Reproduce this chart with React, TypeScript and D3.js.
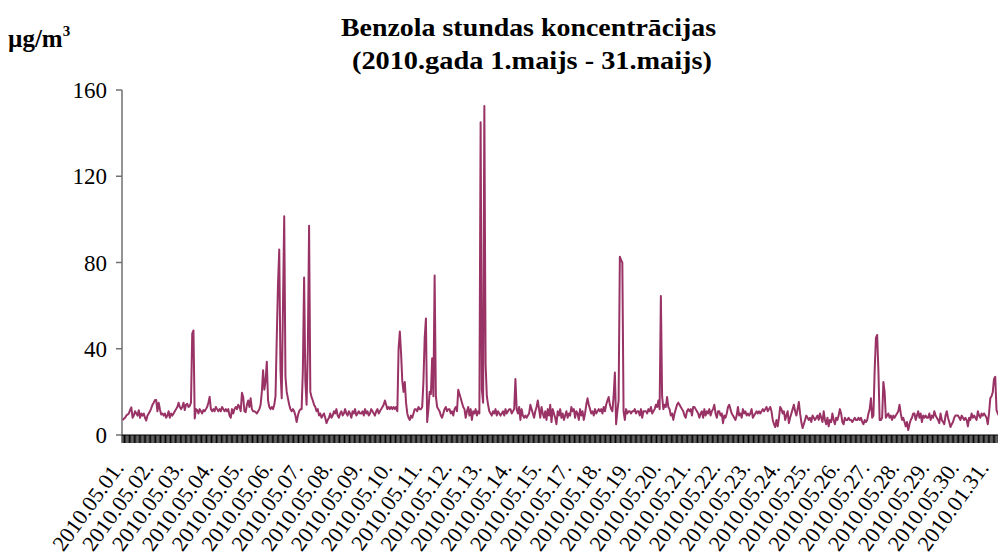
import { useEffect, useRef } from "react";
import * as d3 from "d3";

// x-axis labels (one per day, day 16 is missing in the source)
const dayLabels = [
  "2010.05.01.", "2010.05.02.", "2010.05.03.", "2010.05.04.", "2010.05.05.",
  "2010.05.06.", "2010.05.07.", "2010.05.08.", "2010.05.09.", "2010.05.10.",
  "2010.05.11.", "2010.05.12.", "2010.05.13.", "2010.05.14.", "2010.05.15.",
  "2010.05.17.", "2010.05.18.", "2010.05.19.", "2010.05.20.", "2010.05.21.",
  "2010.05.22.", "2010.05.23.", "2010.05.24.", "2010.05.25.", "2010.05.26.",
  "2010.05.27.", "2010.05.28.", "2010.05.29.", "2010.05.30.", "2010.01.31.",
];

const yTicks = [0, 40, 80, 120, 160];

// hourly benzene, µg/m3 (24 values per day)
const d01 = [7, 7.5, 8, 9, 9.5, 10, 11.6, 12.8, 8, 9, 11, 10, 9, 11.5, 8, 10, 9, 10, 8, 6.7, 9, 10, 11, 12.4];
const d02 = [14, 15, 16.2, 16.2, 11, 15, 12, 9.5, 10, 9, 10, 8, 9, 11, 8, 10, 9, 10, 11, 12, 13, 15, 13, 12];
const d03 = [13, 15, 11.6, 14, 14.5, 13, 13.5, 15, 47, 48.5, 7.7, 12, 11.6, 10, 12, 11, 10, 11.6, 11, 12, 13, 15, 17.7, 12];
const d04 = [11, 12, 11, 13, 12, 11, 12, 11, 13, 12, 11, 12, 11, 12, 9, 8, 12, 10, 12, 13, 12, 14, 13, 11];
const d05 = [19.6, 17.6, 11, 10.6, 14, 16, 13, 17, 12, 11, 11, 10.6, 10, 11, 12, 14, 20, 30, 21, 25, 34, 16, 13, 12];
const d06 = [13, 12, 14, 18, 45, 70, 86, 30, 17, 60, 101.5, 27, 20, 17, 14, 12, 11, 12, 11, 9, 6, 9, 11, 12];
const d07 = [12, 30, 73, 25, 14, 40, 97, 20, 17.6, 16, 14, 13, 11, 12, 9, 10, 8, 9, 10, 8, 5.5, 7, 8, 10];
const d08 = [8, 9, 11, 10, 12, 9, 8, 10, 11, 9, 10, 12, 10, 9, 11, 10, 8, 11, 10, 12, 9, 10, 11, 10];
const d09 = [10, 11, 9, 12, 10, 11, 9, 10, 12, 11, 10, 9, 11, 12, 10, 11, 12, 13, 14, 16, 14, 12, 13, 12];
const d10 = [13, 12, 13, 12, 13, 11, 40, 48, 38, 25, 20, 24.6, 15, 10, 8, 7, 9, 8, 10, 12, 12, 11, 13, 12];
const d11 = [12, 13, 25, 45, 54, 6, 12, 20, 19, 35.6, 18, 74, 18, 13, 12, 11, 9, 8, 10, 12, 13, 11, 12, 12];
const d12 = [10, 11, 9, 12, 13, 11, 21, 19, 17, 15, 13, 12, 8, 11, 13, 9, 12, 7, 11, 10, 12, 9, 11, 10];
const d13 = [145, 21, 15, 152.6, 33, 18, 14, 11, 10, 9, 11, 10, 12, 9, 11, 10, 9, 10, 11, 9, 12, 10, 11, 12];
const d14 = [12, 10, 11, 12, 26, 12, 10, 13, 7, 12, 9, 8, 9, 8, 9, 10, 14, 12, 10, 8, 11, 13, 16, 12];
const d15 = [8, 13, 10, 8, 11, 7, 12, 9, 14, 6, 12, 10, 8, 5, 11, 9, 12, 8, 10, 7, 9, 11, 8, 10];
const d17 = [9, 13, 11, 12, 8, 11, 10, 7, 12, 9, 11, 7, 10, 14, 17, 14, 12, 10, 11, 9, 12, 10, 11, 12];
const d18 = [11, 12, 10, 13, 11, 14, 16, 17.6, 14, 12, 11, 18, 29, 5, 11, 16, 82.7, 81, 80, 11, 7, 12, 10, 11];
const d19 = [11, 10, 11, 11, 12, 10, 11, 11, 9, 12, 8, 11, 11, 11, 10, 12, 11, 13, 10, 11, 12, 14, 13, 16];
const d20 = [12, 64.5, 18, 12, 14, 13, 17.6, 13, 12, 9, 10, 7, 10, 12, 14, 15, 14, 13, 12, 11, 9, 8, 11, 12];
const d21 = [11, 12, 9, 13, 13, 12, 11, 10, 8, 10, 11, 8, 12, 9, 11, 10, 12, 9, 11, 12, 14, 10, 8, 11];
const d22 = [11, 9, 10, 5.5, 9, 8, 10, 13, 14, 12, 10, 9, 8, 7, 9, 13, 9, 10, 8, 12, 10, 11, 9, 10];
const d23 = [9, 10, 12, 8, 9, 10, 11, 10, 11, 10, 11, 12, 11, 12, 13, 11, 12, 13, 11, 7, 5, 3.7, 7, 4];
const d24 = [8, 13, 12, 10, 11, 7, 9, 11, 5.5, 8, 10, 12, 14, 11, 9, 12, 15.3, 10, 6, 3.2, 5, 7, 9, 8];
const d25 = [7, 8, 6, 9, 8, 7, 8, 9, 7, 10, 8, 6, 11, 7, 5, 8, 4, 7, 6, 10, 7, 5, 8, 7];
const d26 = [9, 12, 10, 6, 5, 8, 7, 7, 8, 7, 7, 6, 7, 8, 7, 7, 8, 7, 8, 6, 5, 7, 6, 7];
const d27 = [10, 12, 17, 8, 9, 30, 45, 46.4, 30, 7, 7, 8, 24.6, 20, 8, 9, 10, 8, 9, 7, 9, 8, 9, 10];
const d28 = [11, 14, 10, 7, 8, 6, 4, 6, 2.3, 5, 7, 8, 10, 10, 7, 9, 11, 8, 10, 6, 9, 8, 9, 8];
const d29 = [8, 10, 7, 9, 8, 11, 9, 8, 7, 5.5, 10, 7, 6, 5, 9, 11, 8, 6, 3.7, 5, 6, 8, 9, 9];
const d30 = [9, 8, 7, 9, 8, 7, 8, 7, 4, 8, 7, 10, 8, 9, 8, 7, 11, 9, 8, 10, 9, 10, 9, 8];
const d31 = [5, 10, 17, 18, 19.8, 26, 27, 11.6, 10, 9, 11, 10, 8, 9, 10, 12, 11, 9, 8, 10, 11, 9, 10, 9];

const days = [
  d01, d02, d03, d04, d05, d06, d07, d08, d09, d10, d11, d12, d13, d14, d15,
  d17, d18, d19, d20, d21, d22, d23, d24, d25, d26, d27, d28, d29, d30, d31,
];

const W = 998;
const H = 559;
const serif = "'Liberation Serif', 'Times New Roman', serif";

export default function App() {
  const svgRef = useRef<SVGSVGElement>(null);

  useEffect(() => {
    if (!svgRef.current) return;
    const svg = d3.select(svgRef.current);
    svg.selectAll("*").remove();

    const values = days.flat();
    const perDay = days[0].length;

    // plot runs past the right edge of the picture (source is cropped)
    const left = 122;
    const top = 90;
    const bottom = 435;
    const plotW = 895;

    const x = d3
      .scaleBand<number>()
      .domain(d3.range(values.length))
      .range([left, left + plotW])
      .paddingInner(0)
      .paddingOuter(0);
    const half = x.bandwidth() / 2;

    const y = d3.scaleLinear().domain([0, 160]).range([bottom, top]);

    // title (condensed look of the original)
    svg
      .append("text")
      .attr("x", 341)
      .attr("y", 36)
      .attr("textLength", 375)
      .attr("lengthAdjust", "spacingAndGlyphs")
      .attr("font-family", serif)
      .attr("font-weight", "bold")
      .attr("font-size", 26)
      .text("Benzola stundas koncentrācijas");
    svg
      .append("text")
      .attr("x", 352)
      .attr("y", 69)
      .attr("textLength", 360)
      .attr("lengthAdjust", "spacingAndGlyphs")
      .attr("font-family", serif)
      .attr("font-weight", "bold")
      .attr("font-size", 26)
      .text("(2010.gada 1.maijs - 31.maijs)");

    // unit label
    const unit = svg
      .append("text")
      .attr("x", 8)
      .attr("y", 47)
      .attr("font-family", serif)
      .attr("font-weight", "bold")
      .attr("font-size", 25);
    unit.append("tspan").text("µg/m");
    unit.append("tspan").attr("font-size", 15).attr("dy", -11).text("3");

    // y axis
    svg
      .append("line")
      .attr("x1", left)
      .attr("x2", left)
      .attr("y1", y(160))
      .attr("y2", y(0))
      .attr("stroke", "#707070")
      .attr("stroke-width", 1.5);

    svg
      .append("g")
      .selectAll("line")
      .data(yTicks)
      .join("line")
      .attr("x1", left - 6)
      .attr("x2", left)
      .attr("y1", (d) => y(d))
      .attr("y2", (d) => y(d))
      .attr("stroke", "#707070")
      .attr("stroke-width", 1.5);

    svg
      .append("g")
      .selectAll("text")
      .data(yTicks)
      .join("text")
      .attr("x", 107)
      .attr("y", (d) => y(d))
      .attr("dy", "0.35em")
      .attr("text-anchor", "end")
      .attr("font-family", serif)
      .attr("font-size", 23)
      .text((d) => d);

    // category tick marks, one between every hour
    const edges = d3.range(values.length + 1).map((i) =>
      i < values.length ? (x(i) as number) : left + plotW
    );
    svg
      .append("g")
      .selectAll("line")
      .data(edges)
      .join("line")
      .attr("x1", (d) => d)
      .attr("x2", (d) => d)
      .attr("y1", bottom)
      .attr("y2", bottom + 8)
      .attr("stroke", "#000")
      .attr("stroke-width", 1);

    // x axis line
    svg
      .append("line")
      .attr("x1", left)
      .attr("x2", left + plotW)
      .attr("y1", bottom)
      .attr("y2", bottom)
      .attr("stroke", "#000")
      .attr("stroke-width", 1.2);

    // day labels
    svg
      .append("g")
      .selectAll("text")
      .data(dayLabels)
      .join("text")
      .attr(
        "transform",
        (_, k) => `translate(${(x(k * perDay) as number) + half + 2},${468}) rotate(-54)`
      )
      .attr("text-anchor", "end")
      .attr("font-family", serif)
      .attr("font-size", 22)
      .text((d) => d);

    // series line
    const line = d3
      .line<number>()
      .x((_, i) => (x(i) as number) + half)
      .y((d) => y(d));

    svg
      .append("path")
      .datum(values)
      .attr("fill", "none")
      .attr("stroke", "#993366")
      .attr("stroke-width", 2)
      .attr("stroke-linejoin", "round")
      .attr("d", line);
  }, []);

  return (
    <div
      style={{
        position: "absolute",
        left: 0,
        top: 0,
        width: W,
        height: H,
        overflow: "hidden",
        background: "#fff",
      }}
    >
      <svg ref={svgRef} width={W} height={H} style={{ display: "block" }} />
    </div>
  );
}
